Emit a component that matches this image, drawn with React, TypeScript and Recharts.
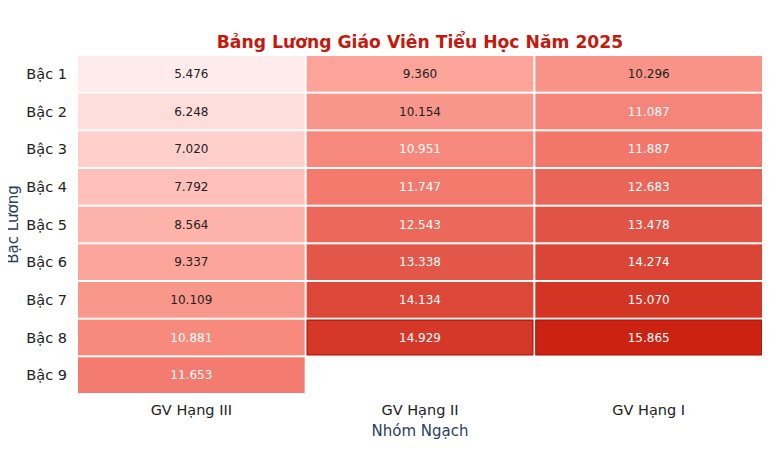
import React from "react";
import { ScatterChart, Scatter, XAxis, YAxis } from "recharts";

const levels = ["Bậc 1", "Bậc 2", "Bậc 3", "Bậc 4", "Bậc 5", "Bậc 6", "Bậc 7", "Bậc 8", "Bậc 9"];
const groups = ["GV Hạng III", "GV Hạng II", "GV Hạng I"];
const hangIII = [5.476, 6.248, 7.02, 7.792, 8.564, 9.337, 10.109, 10.881, 11.653];
const hangII = [9.36, 10.154, 10.951, 11.747, 12.543, 13.338, 14.134, 14.929, null];
const hangI = [10.296, 11.087, 11.887, 12.683, 13.478, 14.274, 15.07, 15.865, null];
const highlightCells = [
  ["GV Hạng II", "Bậc 8"],
  ["GV Hạng I", "Bậc 8"],
];
const title = "Bảng Lương Giáo Viên Tiểu Học Năm 2025";
const xTitle = "Nhóm Ngạch";
const yTitle = "Bậc Lương";

const seriesByGroup = [hangIII, hangII, hangI];

const points: any[] = [];
seriesByGroup.forEach((vals, gi) => {
  vals.forEach((v, li) => {
    if (v !== null) {
      points.push({
        x: gi,
        y: li,
        value: v,
        hl: highlightCells.some((h) => h[0] === groups[gi] && h[1] === levels[li]),
      });
    }
  });
});

const allVals = points.map((p) => p.value);
const vMin = Math.min(...allVals);
const vMax = Math.max(...allVals);

const stops: [number, [number, number, number]][] = [
  [0, [255, 235, 235]],
  [0.22, [255, 193, 188]],
  [0.37, [252, 165, 154]],
  [0.6, [244, 122, 110]],
  [0.76, [226, 86, 71]],
  [0.9, [214, 58, 42]],
  [1, [204, 34, 17]],
];

function colorFor(v: number) {
  const t = (v - vMin) / (vMax - vMin);
  for (let i = 1; i < stops.length; i++) {
    if (t <= stops[i][0]) {
      const [t0, c0] = stops[i - 1];
      const [t1, c1] = stops[i];
      const f = (t - t0) / (t1 - t0);
      const c = c0.map((a, k) => Math.round(a + (c1[k] - a) * f));
      return `rgb(${c[0]},${c[1]},${c[2]})`;
    }
  }
  return "rgb(204,34,17)";
}

const W = 770;
const H = 458;
const M = { top: 55, right: 7, bottom: 0, left: 0 };
const Y_AXIS_W = 77;
const X_AXIS_H = 64;
const PLOT_W = W - M.left - M.right - Y_AXIS_W;
const PLOT_H = H - M.top - M.bottom - X_AXIS_H;
const CELL_W = PLOT_W / groups.length;
const CELL_H = PLOT_H / levels.length;
const FONT = "'DejaVu Sans', Verdana, sans-serif";

const CellShape = (props: any) => {
  const { cx, cy, payload } = props;
  const v = payload.value;
  const fill = colorFor(v);
  const textColor = (v - vMin) / (vMax - vMin) > 0.5 ? "#ffffff" : "#222222";
  return (
    <g>
      <rect x={cx - CELL_W / 2 + 1} y={cy - CELL_H / 2 + 1} width={CELL_W - 2} height={CELL_H - 2} fill={fill} />
      {payload.hl && (
        <rect
          x={cx - CELL_W / 2 + 1.5}
          y={cy - CELL_H / 2 + 1.5}
          width={CELL_W - 3}
          height={CELL_H - 3}
          fill="none"
          stroke="#b3140a"
          strokeWidth={1}
        />
      )}
      <text
        x={cx}
        y={cy}
        dy="0.35em"
        textAnchor="middle"
        fontSize={12}
        fontFamily={FONT}
        fill={textColor}
      >
        {v.toFixed(3)}
      </text>
    </g>
  );
};

export default function App() {
  return (
    <div style={{ position: "relative", width: W, height: 466, margin: -8, background: "#fff" }}>
      <div
        style={{
          position: "absolute",
          left: Y_AXIS_W,
          width: PLOT_W,
          top: 32,
          textAlign: "center",
          fontFamily: FONT,
          fontWeight: "bold",
          fontSize: 17.2,
          color: "#c41a0e",
          lineHeight: "20px",
        }}
      >
        {title}
      </div>
      <ScatterChart width={W} height={H} margin={M}>
        <XAxis
          type="number"
          dataKey="x"
          domain={[-0.5, groups.length - 0.5]}
          ticks={groups.map((_, i) => i)}
          tickFormatter={(i: number) => groups[i]}
          axisLine={false}
          tickLine={false}
          tickMargin={5}
          height={X_AXIS_H}
          tick={{ fill: "#222222", fontSize: 14.5, fontFamily: FONT }}
          label={{
            content: (p: any) => {
              const vb = p.viewBox;
              return (
                <text
                  x={vb.x + vb.width / 2}
                  y={vb.y + 42}
                  textAnchor="middle"
                  fontSize={15}
                  fontFamily={FONT}
                  fill="#2a3f5f"
                >
                  {xTitle}
                </text>
              );
            },
          }}
        />
        <YAxis
          type="number"
          dataKey="y"
          reversed
          domain={[-0.5, levels.length - 0.5]}
          ticks={levels.map((_, i) => i)}
          tickFormatter={(i: number) => levels[i]}
          axisLine={false}
          tickLine={false}
          tickMargin={4}
          width={Y_AXIS_W}
          tick={{ fill: "#222222", fontSize: 14.5, fontFamily: FONT }}
          label={{
            content: (p: any) => {
              const vb = p.viewBox;
              const x = vb.x + 18;
              const y = vb.y + vb.height / 2;
              return (
                <text
                  x={x}
                  y={y}
                  transform={`rotate(-90 ${x} ${y})`}
                  textAnchor="middle"
                  fontSize={15}
                  fontFamily={FONT}
                  fill="#2a3f5f"
                >
                  {yTitle}
                </text>
              );
            },
          }}
        />
        <Scatter data={points} shape={CellShape} isAnimationActive={false} />
      </ScatterChart>
      <div style={{ position: "absolute", left: 0, top: 461, width: W, height: 5, background: "#f4f4f4" }} />
    </div>
  );
}
